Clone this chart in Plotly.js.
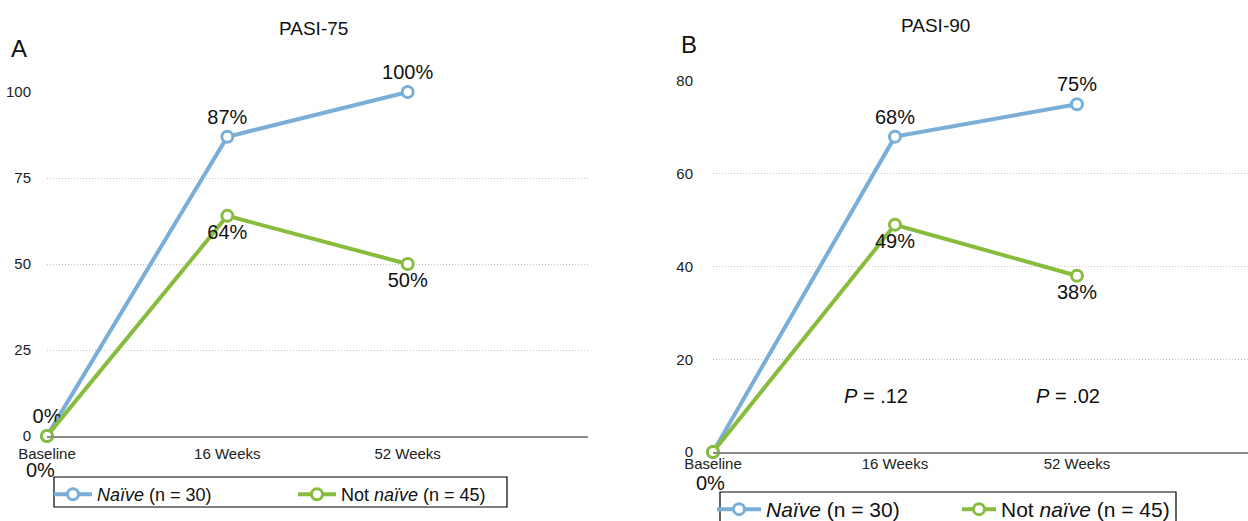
<!DOCTYPE html>
<html>
<head>
<meta charset="utf-8">
<script src="https://cdn.plot.ly/plotly-3.0.1.min.js"></script>
<style>html,body{margin:0;padding:0;background:#fff;}#chart{width:1248px;height:521px;}</style>
</head>
<body>
<div id="chart"></div>
<script>
const categories = ['Baseline', '16 Weeks', '52 Weeks'];
const pasi75Naive = [0, 87, 100];
const pasi75NotNaive = [0, 64, 50];
const pasi90Naive = [0, 68, 75];
const pasi90NotNaive = [0, 49, 38];
const pasi75Ticks = [0, 25, 50, 75, 100];
const pasi90Ticks = [0, 20, 40, 60, 80];
const pValueAt16 = '.12';
const pValueAt52 = '.02';
const seriesNames = ['<i>Naïve</i> (n = 30)', 'Not <i>naïve</i> (n = 45)'];

const blue = '#7aaed6';
const green = '#88bc3e';
const FONT = 'Liberation Sans, Arial, Helvetica, sans-serif';
const W = 1248, H = 521;

function pct(arr) { return arr.map(v => v + '%'); }
function blankFirst(arr) { return arr.map((t, i) => i === 0 ? '' : t); }

function trace(y, color, name, text, pos, xa, ya, legend) {
  return {
    x: categories, y: y, type: 'scatter', mode: 'lines+markers+text',
    name: name, legend: legend, showlegend: true,
    xaxis: xa, yaxis: ya,
    line: {color: color, width: 4},
    marker: {symbol: 'circle', size: 11, color: '#ffffff', line: {color: color, width: 3}},
    text: text, textposition: pos,
    textfont: {family: FONT, size: 20, color: '#111'},
    cliponaxis: false, hoverinfo: 'skip'
  };
}

const data = [
  trace(pasi75Naive, blue, seriesNames[0], pct(pasi75Naive), 'top center', 'x', 'y', 'legend'),
  trace(pasi75NotNaive, green, seriesNames[1], blankFirst(pct(pasi75NotNaive)), 'bottom center', 'x', 'y', 'legend2'),
  trace(pasi90Naive, blue, seriesNames[0], blankFirst(pct(pasi90Naive)), 'top center', 'x2', 'y2', 'legend3'),
  trace(pasi90NotNaive, green, seriesNames[1], blankFirst(pct(pasi90NotNaive)), 'bottom center', 'x2', 'y2', 'legend4')
];

const xCommon = {
  type: 'category', showgrid: false, zeroline: false,
  showline: true, linecolor: '#8a8a8a', linewidth: 1.5,
  ticks: 'outside', tickcolor: 'rgba(0,0,0,0)',
  tickfont: {family: FONT, size: 15, color: '#222'}, fixedrange: true
};
const yCommon = {
  showgrid: true, gridcolor: '#c4c4c4', griddash: '1px,2px', gridwidth: 1,
  zeroline: false, showline: false,
  ticks: 'outside', tickcolor: 'rgba(0,0,0,0)',
  tickfont: {family: FONT, size: 15, color: '#222'}, fixedrange: true
};

function legendAt(px, pyTop, itemw, fsize) {
  return {
    orientation: 'h', xanchor: 'left', yanchor: 'top',
    x: px / W, y: 1 - pyTop / H,
    borderwidth: 0, bgcolor: 'rgba(0,0,0,0)',
    font: {family: FONT, size: fsize, color: '#111'},
    itemwidth: itemw
  };
}

function boxShape(x0, y0, x1, y1) {
  return {type: 'rect', xref: 'paper', yref: 'paper',
    x0: x0 / W, x1: x1 / W, y0: 1 - y1 / H, y1: 1 - y0 / H,
    line: {color: '#000', width: 1.2}, fillcolor: 'rgba(0,0,0,0)', layer: 'below'};
}

function baseLabel(xa, ya, value, dx, dy) {
  return {text: value + '%', xref: xa, yref: ya, x: categories[0], y: value,
    xshift: dx, yshift: dy, showarrow: false,
    font: {family: FONT, size: 20, color: '#111'}};
}

const layout = {
  width: W, height: H,
  margin: {l: 0, r: 0, t: 0, b: 0, autoexpand: false},
  paper_bgcolor: '#fff', plot_bgcolor: '#fff',
  font: {family: FONT},
  xaxis: Object.assign({}, xCommon, {domain: [47 / W, 588 / W], range: [0, 3], ticklen: 3, anchor: 'y'}),
  yaxis: Object.assign({}, yCommon, {domain: [1 - 436 / H, 1 - 92 / H], range: [0, 100], tickvals: pasi75Ticks, ticklen: 12, anchor: 'x'}),
  xaxis2: Object.assign({}, xCommon, {domain: [713 / W, 1], range: [0, 2.94], ticklen: 0, ticks: '', ticklabelstandoff: -3, anchor: 'y2'}),
  yaxis2: Object.assign({}, yCommon, {domain: [1 - 452 / H, 1 - 81 / H], range: [0, 80], tickvals: pasi90Ticks, ticklen: 16, anchor: 'x2'}),
  legend: legendAt(49, 476, 38, 18),
  legend2: legendAt(293, 476, 38, 18),
  legend3: legendAt(712, 489, 44, 21),
  legend4: legendAt(957, 489, 34, 21),
  shapes: [
    boxShape(54, 477, 507, 507),
    boxShape(720, 492, 1176, 540)
  ],
  annotations: [
    {text: 'PASI-75', xref: 'paper', yref: 'paper', x: 313 / W, y: 1 - 28 / H, xanchor: 'center', yanchor: 'middle', showarrow: false, font: {family: FONT, size: 19, color: '#111'}},
    {text: 'A', xref: 'paper', yref: 'paper', x: 9 / W, y: 1 - 48 / H, xanchor: 'left', yanchor: 'middle', showarrow: false, font: {family: FONT, size: 24, color: '#111'}},
    {text: 'PASI-90', xref: 'paper', yref: 'paper', x: 935 / W, y: 1 - 25 / H, xanchor: 'center', yanchor: 'middle', showarrow: false, font: {family: FONT, size: 19, color: '#111'}},
    {text: 'B', xref: 'paper', yref: 'paper', x: 679 / W, y: 1 - 45 / H, xanchor: 'left', yanchor: 'middle', showarrow: false, font: {family: FONT, size: 24, color: '#111'}},
    {text: '<i>P</i> = ' + pValueAt16, xref: 'x2', yref: 'y2', x: categories[1], y: 12, xshift: -19, showarrow: false, font: {family: FONT, size: 20, color: '#111'}},
    {text: '<i>P</i> = ' + pValueAt52, xref: 'x2', yref: 'y2', x: categories[2], y: 12, xshift: -9, showarrow: false, font: {family: FONT, size: 20, color: '#111'}},
    baseLabel('x', 'y', pasi75NotNaive[0], -7, -34),
    baseLabel('x2', 'y2', pasi90NotNaive[0], -3, -31)
  ]
};

Plotly.newPlot('chart', data, layout, {staticPlot: true, displayModeBar: false});
</script>
</body>
</html>
